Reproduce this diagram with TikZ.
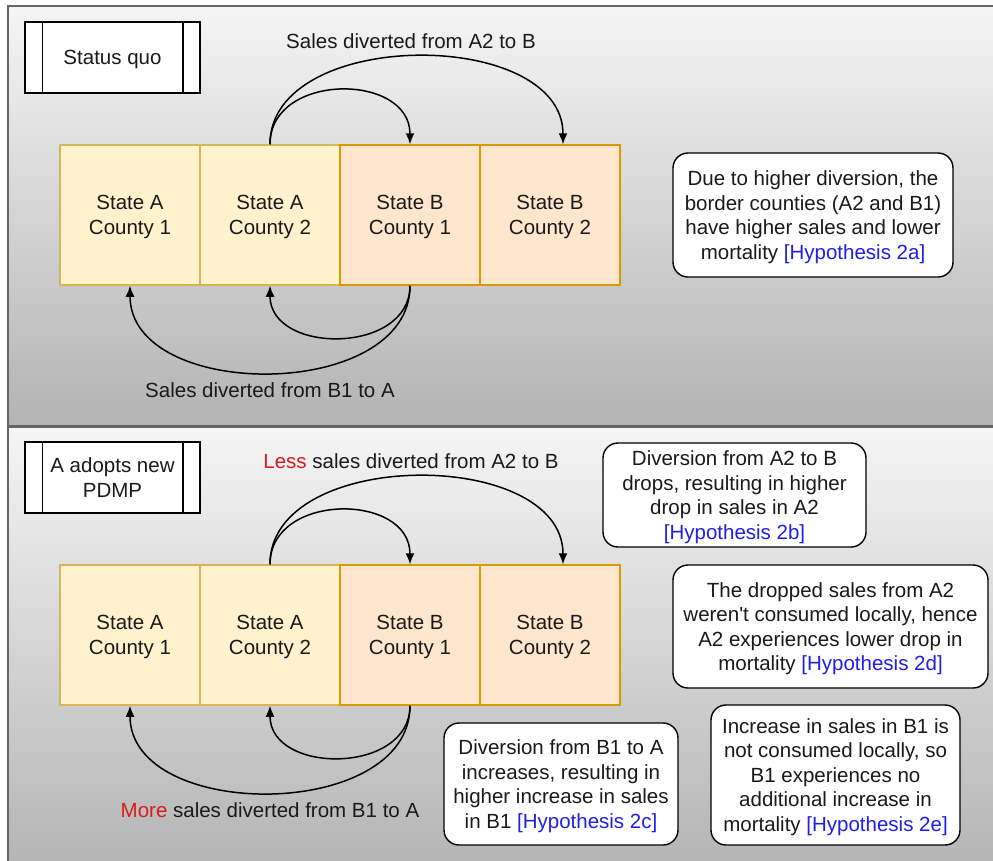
\documentclass[tikz,border=0pt]{standalone}
\usepackage{fontspec}
\setmainfont{Liberation Sans}
\usetikzlibrary{arrows.meta}
\definecolor{ayel}{HTML}{FFF2CC}
\definecolor{ayelb}{HTML}{D6B656}
\definecolor{bor}{HTML}{FFE6CC}
\definecolor{borb}{HTML}{D79B00}
\definecolor{panb}{HTML}{666666}
\definecolor{pantop}{HTML}{F5F5F5}
\definecolor{panbot}{HTML}{B3B3B3}
\definecolor{hyp}{HTML}{1F1FE6}
\definecolor{redt}{HTML}{D91C1C}
\definecolor{txt}{HTML}{1A1A1A}
\begin{document}
\begin{tikzpicture}[x=1pt,y=-1pt,
  every node/.style={font=\fontsize{20.5}{24.5}\selectfont, text=txt},
  panel/.style={draw=panb, line width=2pt, top color=pantop, bottom color=panbot, inner sep=0pt, anchor=north west},
  countyA/.style={draw=ayelb, fill=ayel, line width=1.5pt, minimum width=140pt, minimum height=140pt, inner sep=0pt, align=center, text depth=0pt},
  countyB/.style={draw=borb, fill=bor, line width=1.5pt, minimum width=140pt, minimum height=140pt, inner sep=0pt, align=center, text depth=0pt},
  procbox/.style={draw=black, fill=white, line width=1.5pt, minimum width=175pt, minimum height=71pt, inner sep=0pt, align=center, text depth=0pt},
  hypbox/.style={draw=black, fill=white, line width=1.4pt, rounded corners=15pt, inner sep=0pt, align=center, text depth=0pt},
  arr/.style={draw=black, line width=1.5pt, -{Latex[length=11pt,width=9pt]}},
  lbl/.style={inner sep=0pt}
]
\useasboundingbox (0,0) rectangle (993,860);

% panels
\node[panel, minimum width=1000pt, minimum height=420pt] (p1) at (7,5) {};
\node[panel, minimum width=1000pt, minimum height=450pt] (p2) at (7,426) {};

% ---------- panel 1 ----------
\node[procbox] (sq) at (112.5,57.5) {Status quo};
\draw[line width=1.5pt] ([xshift=18pt]sq.north west) -- ([xshift=18pt]sq.south west);
\draw[line width=1.5pt] ([xshift=-18pt]sq.north east) -- ([xshift=-18pt]sq.south east);

\node[countyA] (a1) at (130,215) {State A\\County 1};
\node[countyA] (a2) at (270,215) {State A\\County 2};
\node[countyB] (b1) at (410,215) {State B\\County 1};
\node[countyB] (b2) at (550,215) {State B\\County 2};

\draw[arr] (a2.north) .. controls +(0,-72) and +(0,-72) .. (b1.north);
\draw[arr] (a2.north) .. controls +(0,-117) and +(0,-117) .. ([xshift=13pt]b2.north);
\draw[arr] (b1.south) .. controls +(0,69) and +(0,69) .. (a2.south);
\draw[arr] (b1.south) .. controls +(0,116) and +(0,116) .. (a1.south);

\node[lbl] (t1) at (411,41) {Sales diverted from A2 to B};
\node[lbl] (t2) at (270,390) {Sales diverted from B1 to A};

\node[hypbox, minimum width=280pt, minimum height=124pt] (h2a) at (813,215)
  {Due to higher diversion, the\\border counties (A2 and B1)\\have higher sales and lower\\mortality {\color{hyp}[Hypothesis 2a]}};

% ---------- panel 2 ----------
\node[procbox] (pd) at (112.5,477.5) {A adopts new\\PDMP};
\draw[line width=1.5pt] ([xshift=18pt]pd.north west) -- ([xshift=18pt]pd.south west);
\draw[line width=1.5pt] ([xshift=-18pt]pd.north east) -- ([xshift=-18pt]pd.south east);

\node[countyA] (c1) at (130,635) {State A\\County 1};
\node[countyA] (c2) at (270,635) {State A\\County 2};
\node[countyB] (d1) at (410,635) {State B\\County 1};
\node[countyB] (d2) at (550,635) {State B\\County 2};

\draw[arr] (c2.north) .. controls +(0,-72) and +(0,-72) .. (d1.north);
\draw[arr] (c2.north) .. controls +(0,-117) and +(0,-117) .. ([xshift=13pt]d2.north);
\draw[arr] (d1.south) .. controls +(0,69) and +(0,69) .. (c2.south);
\draw[arr] (d1.south) .. controls +(0,116) and +(0,116) .. (c1.south);

\node[lbl] (t3) at (411,461) {{\color{redt}Less} sales diverted from A2 to B};
\node[lbl] (t4) at (270,810) {{\color{redt}More} sales diverted from B1 to A};

\node[hypbox, minimum width=263pt, minimum height=104pt] (h2b) at (734.5,495)
  {Diversion from A2 to B\\drops, resulting in higher\\drop in sales in A2\\{\color{hyp}[Hypothesis 2b]}};
\node[hypbox, minimum width=315pt, minimum height=123pt] (h2d) at (830.5,626.5)
  {The dropped sales from A2\\weren\textquotesingle t consumed locally, hence\\A2 experiences lower drop in\\mortality {\color{hyp}[Hypothesis 2d]}};
\node[hypbox, minimum width=234pt, minimum height=122pt] (h2c) at (561,784)
  {Diversion from B1 to A\\increases, resulting in\\higher increase in sales\\in B1 {\color{hyp}[Hypothesis 2c]}};
\node[hypbox, minimum width=249pt, minimum height=140pt] (h2e) at (835.5,775)
  {Increase in sales in B1 is\\not consumed locally, so\\B1 experiences no\\additional increase in\\mortality {\color{hyp}[Hypothesis 2e]}};
\end{tikzpicture}
\end{document}
